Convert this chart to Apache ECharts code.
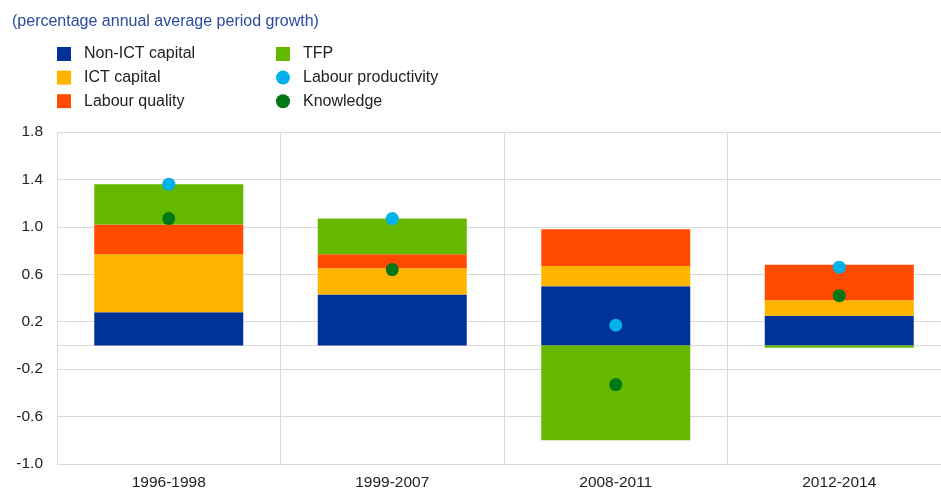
<!DOCTYPE html>
<html>
<head>
<meta charset="utf-8">
<script src="https://cdn.jsdelivr.net/npm/echarts@6/dist/echarts.min.js"></script>
<style>
  html, body { margin: 0; padding: 0; background: #fff; overflow: hidden; }
  #main { width: 951px; height: 491px; }
</style>
</head>
<body>
<div id="main"></div>
<script>
  // periods on the x axis
  const periods = ['1996-1998', '1999-2007', '2008-2011', '2012-2014'];

  // stacked contributions
  const nonIctCapital = [0.28, 0.43, 0.50, 0.25];
  const ictCapital = [0.49, 0.22, 0.17, 0.13];
  const labourQuality = [0.25, 0.12, 0.31, 0.30];
  const tfp = [0.34, 0.30, -0.80, -0.02];

  // dots
  const labourProductivity = [1.36, 1.07, 0.17, 0.66];
  const knowledge = [1.07, 0.64, -0.33, 0.42];

  // labelled y ticks
  const yLabels = [-1.0, -0.6, -0.2, 0.2, 0.6, 1.0, 1.4, 1.8];

  const gridColor = '#d9d9d9';
  const font = 'Liberation Sans, Arial, sans-serif';

  let myChart = echarts.init(document.getElementById('main'));

  function bar(name, data, color) {
    return {
      name: name,
      type: 'bar',
      stack: 'total',
      barWidth: 149,
      data: data,
      itemStyle: { color: color },
      emphasis: { disabled: true }
    };
  }

  function dots(name, data, color) {
    return {
      name: name,
      type: 'scatter',
      symbol: 'circle',
      symbolSize: 13,
      z: 5,
      data: data,
      itemStyle: { color: color, opacity: 1 }
    };
  }

  let legendText = { color: '#222', fontSize: 16, fontFamily: font, padding: [0, 0, 0, 8] };

  let option = {
    animation: false,
    title: {
      text: '(percentage annual average period growth)',
      left: 12,
      top: 14,
      padding: 0,
      textStyle: { color: '#2a4b9e', fontSize: 16, fontWeight: 'normal', fontFamily: font }
    },
    legend: [
      {
        orient: 'vertical',
        left: 57,
        top: 46,
        padding: 0,
        itemWidth: 14,
        itemHeight: 14,
        itemGap: 7.6,
        icon: 'rect',
        data: ['Non-ICT capital', 'ICT capital', 'Labour quality'],
        textStyle: legendText
      },
      {
        orient: 'vertical',
        left: 276,
        top: 46,
        padding: 0,
        itemWidth: 14,
        itemHeight: 14,
        itemGap: 7.6,
        data: [
          { name: 'TFP', icon: 'rect' },
          { name: 'Labour productivity', icon: 'circle' },
          { name: 'Knowledge', icon: 'circle' }
        ],
        textStyle: legendText
      }
    ],
    grid: {
      left: 57,
      top: 132,
      right: 0,
      height: 332
    },
    xAxis: [
      {
        type: 'category',
        data: periods,
        axisLine: { show: false, onZero: false },
        axisTick: { show: false },
        axisLabel: { color: '#222', fontSize: 15.5, fontFamily: font, margin: 11 },
        splitLine: { show: true, lineStyle: { color: gridColor, width: 1 } }
      },
      {
        // only used for the zero line
        type: 'category',
        data: periods,
        axisLine: { show: true, onZero: true, lineStyle: { color: gridColor, width: 1 } },
        axisTick: { show: false },
        axisLabel: { show: false },
        splitLine: { show: false }
      }
    ],
    yAxis: {
      type: 'value',
      min: -1.0,
      max: 1.8,
      interval: 0.2,
      axisLine: { show: false },
      axisTick: { show: false },
      axisLabel: {
        color: '#222',
        fontSize: 15.5,
        fontFamily: font,
        margin: 14,
        formatter: function (v) {
          let hit = yLabels.some(function (t) { return Math.abs(t - v) < 1e-6; });
          return hit ? v.toFixed(1) : '';
        }
      },
      splitLine: {
        show: true,
        lineStyle: { color: [gridColor, 'rgba(0,0,0,0)'], width: 1 }
      }
    },
    series: [
      bar('Non-ICT capital', nonIctCapital, '#003299'),
      bar('ICT capital', ictCapital, '#ffb400'),
      bar('Labour quality', labourQuality, '#ff4b00'),
      bar('TFP', tfp, '#65b800'),
      dots('Labour productivity', labourProductivity, '#00b1ea'),
      dots('Knowledge', knowledge, '#007816')
    ]
  };

  myChart.setOption(option);
</script>
</body>
</html>
